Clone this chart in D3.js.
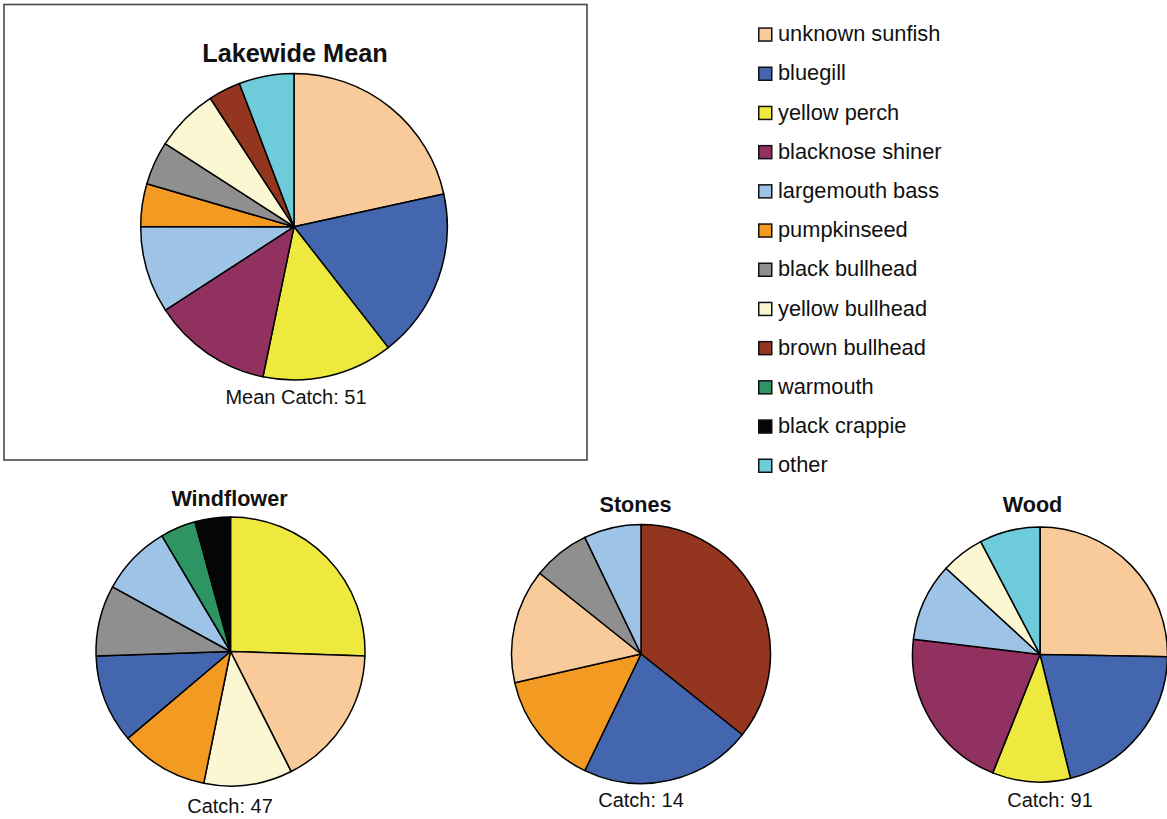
<!DOCTYPE html>
<html>
<head>
<meta charset="utf-8">
<script src="https://cdn.jsdelivr.net/npm/d3@7"></script>
<style>
  body { margin: 0; background: #fff; }
  text { font-family: "Liberation Sans", Arial, Helvetica, sans-serif; fill: #111; }
</style>
</head>
<body>
<div id="chart"></div>
<script>
// species in legend order, with their colours
const species = ["unknown sunfish", "bluegill", "yellow perch", "blacknose shiner",
  "largemouth bass", "pumpkinseed", "black bullhead", "yellow bullhead",
  "brown bullhead", "warmouth", "black crappie", "other"];
const speciesColors = ["#F9CB9A", "#4366AE", "#EDE93E", "#913160",
  "#9DC3E6", "#F39A22", "#8F8F8F", "#FBF7D2",
  "#943520", "#2E9464", "#050505", "#6ECCDA"];

// lakewide mean composition (percent), legend order
const lakewideValues = [21.6, 17.9, 13.8, 12.6, 9.2, 4.5, 4.6, 6.7, 3.4, 0, 0, 5.8];
const lakewideCatch = 51;

// per-lake catch counts, in the order the slices are drawn
const windflowerSpecies = ["yellow perch", "unknown sunfish", "yellow bullhead", "pumpkinseed",
  "bluegill", "black bullhead", "largemouth bass", "warmouth", "black crappie"];
const windflowerCatch = [12, 8, 5, 5, 5, 4, 4, 2, 2];

const stonesSpecies = ["brown bullhead", "bluegill", "pumpkinseed", "unknown sunfish",
  "black bullhead", "largemouth bass"];
const stonesCatch = [5, 3, 2, 2, 1, 1];

const woodSpecies = ["unknown sunfish", "bluegill", "yellow perch", "blacknose shiner",
  "largemouth bass", "yellow bullhead", "other"];
const woodCatch = [23, 19, 9, 19, 9, 5, 7];

var svgWidth = 1167, svgHeight = 819;

var color = d3.scaleOrdinal().domain(species).range(speciesColors);

var svg = d3.select("#chart").append("svg")
  .attr("width", svgWidth)
  .attr("height", svgHeight);

// frame round the lakewide panel
svg.append("rect")
  .attr("x", 4).attr("y", 4.5)
  .attr("width", 583).attr("height", 455.5)
  .attr("fill", "none")
  .attr("stroke", "#4a4a4a")
  .attr("stroke-width", 1.6);

// draws one pie with its title and catch label
function drawPie(names, values, opts) {
  var rows = names.map((n, i) => ({ name: n, value: values[i] })).filter(d => d.value > 0);

  var pie = d3.pie().sort(null).value(d => d.value);
  var arc = d3.arc().innerRadius(0).outerRadius(opts.r);

  var g = svg.append("g")
    .attr("transform", `translate(${opts.cx}, ${opts.cy})`);

  g.selectAll("path")
    .data(pie(rows))
    .enter()
    .append("path")
    .attr("d", arc)
    .attr("fill", d => color(d.data.name))
    .attr("stroke", "#000")
    .attr("stroke-width", 1.5)
    .attr("stroke-linejoin", "round");

  svg.append("text")
    .attr("x", opts.titleX)
    .attr("y", opts.titleY)
    .attr("text-anchor", "middle")
    .attr("font-weight", "bold")
    .attr("font-size", opts.titleSize)
    .text(opts.title);

  svg.append("text")
    .attr("x", opts.labelX)
    .attr("y", opts.labelY)
    .attr("text-anchor", "middle")
    .attr("font-size", "20px")
    .text(opts.label);
}

drawPie(species, lakewideValues, {
  cx: 294, cy: 226.7, r: 153.3,
  title: "Lakewide Mean", titleX: 295, titleY: 62, titleSize: "25.3px",
  label: "Mean Catch: " + lakewideCatch, labelX: 296, labelY: 404
});

drawPie(windflowerSpecies, windflowerCatch, {
  cx: 230.5, cy: 651.5, r: 134.5,
  title: "Windflower", titleX: 229.5, titleY: 506, titleSize: "21.6px",
  label: "Catch: " + d3.sum(windflowerCatch), labelX: 230, labelY: 813
});

drawPie(stonesSpecies, stonesCatch, {
  cx: 641, cy: 654, r: 129.5,
  title: "Stones", titleX: 635.5, titleY: 511.5, titleSize: "21.6px",
  label: "Catch: " + d3.sum(stonesCatch), labelX: 641, labelY: 807
});

drawPie(woodSpecies, woodCatch, {
  cx: 1040, cy: 654.5, r: 127.5,
  title: "Wood", titleX: 1032.5, titleY: 511.5, titleSize: "21.6px",
  label: "Catch: " + d3.sum(woodCatch), labelX: 1050, labelY: 807
});

// legend
var legendRow = d3.scaleLinear().domain([0, species.length - 1]).range([27.3, 458.5]);

var legend = svg.append("g").selectAll("g")
  .data(species)
  .enter()
  .append("g")
  .attr("transform", (d, i) => `translate(758, ${legendRow(i)})`);

legend.append("rect")
  .attr("x", 0.75).attr("y", 0.75)
  .attr("width", 13).attr("height", 13)
  .attr("fill", d => color(d))
  .attr("stroke", "#111")
  .attr("stroke-width", 1.5);

legend.append("text")
  .attr("x", 20)
  .attr("y", 13.8)
  .attr("font-size", "21.8px")
  .text(d => d);
</script>
</body>
</html>
